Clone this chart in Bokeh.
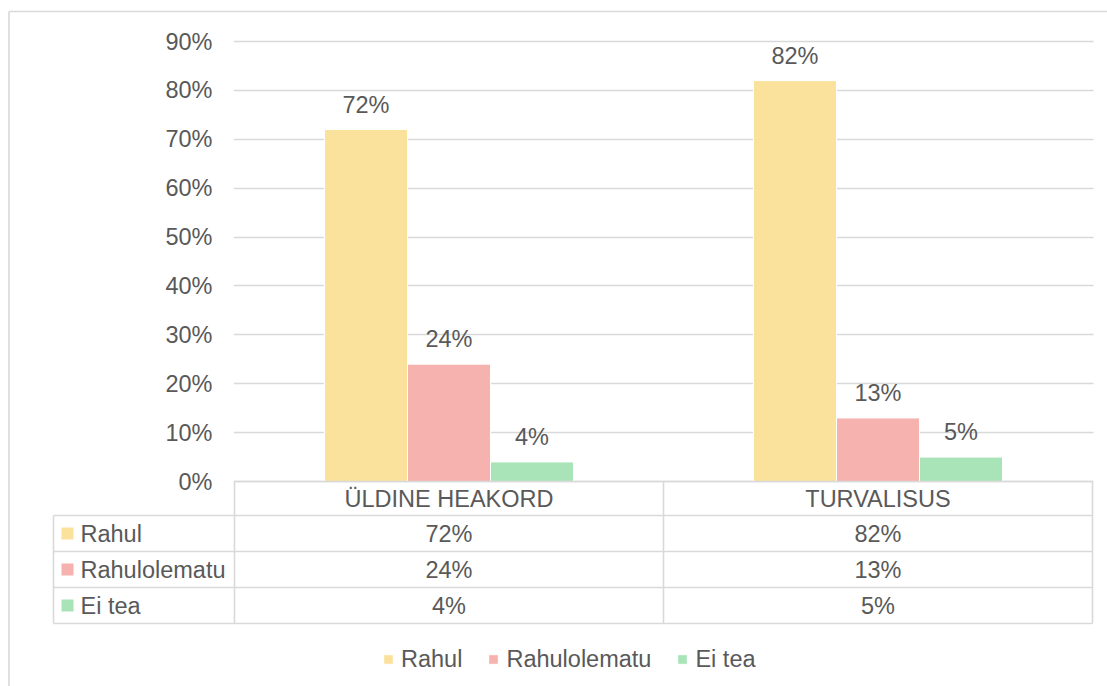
from bokeh.plotting import figure
from bokeh.models import (Range1d, LinearAxis, FixedTicker, Grid, Legend, LegendItem,
                          ColumnDataSource, PrintfTickFormatter)
from bokeh.transform import dodge
from bokeh.core.properties import value
from bokeh.embed import file_html
from bokeh.resources import INLINE

# ---------------- data ----------------
categories = ["ÜLDINE HEAKORD", "TURVALISUS"]
series = ["Rahul", "Rahulolematu", "Ei tea"]
rahul = [72, 82]
rahulolematu = [24, 13]
ei_tea = [4, 5]
y_ticks = [0, 10, 20, 30, 40, 50, 60, 70, 80, 90]

# ---------------- style ----------------
colors = ["#FAE29C", "#F6B2AE", "#A8E4B8"]
FONT = value("Liberation Sans")
FS = "23.5px"
TXT = "#595959"
LINE = "#d9d9d9"

# ---------------- layout helpers (canvas pixels -> data units) ----------------
W, H = 1107, 686
PX0, PCAT = 234.0, 429.0          # x of category axis start, px per category
PY0, PPCT = 481.0, 440.0 / 90.0   # y of 0 %, px per percent


def ux(wx):
    return (wx - PX0) / PCAT


def vy(wy):
    return (PY0 - wy) / PPCT


p = figure(width=W, height=H,
           x_range=Range1d(ux(0), ux(W)),
           y_range=Range1d(vy(H), vy(0)),
           x_axis_type=None, y_axis_type=None,
           output_backend="svg", toolbar_location=None,
           min_border=0, outline_line_color=None)
p.background_fill_color = "white"
p.border_fill_color = "white"

# grid
grid = Grid(dimension=1, ticker=FixedTicker(ticks=y_ticks),
            grid_line_color=LINE, grid_line_width=1.4)
p.add_layout(grid)

# masks to hide grid left of plot area / right of it
p.quad(left=[ux(0), ux(1093)], right=[ux(233.4), ux(W)],
       bottom=[vy(H), vy(H)], top=[vy(0), vy(0)],
       fill_color="white", line_color=None)

# y axis
yaxis = LinearAxis(fixed_location=0, bounds=(0, 90),
                   ticker=FixedTicker(ticks=y_ticks),
                   formatter=PrintfTickFormatter(format="%d%%"),
                   axis_line_color=None, major_tick_line_color=None,
                   minor_tick_line_color=None, major_tick_out=0, major_tick_in=0,
                   major_label_standoff=22,
                   major_label_text_font="Liberation Sans",
                   major_label_text_font_size=FS,
                   major_label_text_color=TXT)
p.add_layout(yaxis, "left")

# x axis (category labels in table header row)
xaxis = LinearAxis(fixed_location=0,
                   ticker=FixedTicker(ticks=[i + 0.5 for i in range(len(categories))]),
                   major_label_overrides={i + 0.5: c for i, c in enumerate(categories)},
                   axis_line_color=None, major_tick_line_color=None,
                   minor_tick_line_color=None, major_tick_out=0, major_tick_in=0,
                   major_label_standoff=4,
                   major_label_text_font="Liberation Sans",
                   major_label_text_font_size=FS,
                   major_label_text_color=TXT)
p.add_layout(xaxis, "below")

# bars
src = ColumnDataSource(dict(
    x=[i + 0.5 for i in range(len(categories))],
    rahul=rahul, rahulolematu=rahulolematu, ei_tea=ei_tea,
    rahul_l=[f"{v}%" for v in rahul],
    rahulolematu_l=[f"{v}%" for v in rahulolematu],
    ei_tea_l=[f"{v}%" for v in ei_tea],
))
fields = ["rahul", "rahulolematu", "ei_tea"]
off = 83.0 / PCAT
renderers = []
for k, (f, c) in enumerate(zip(fields, colors)):
    d = (k - 1) * off
    r = p.vbar(x=dodge("x", d, range=p.x_range), top=f, bottom=0, width=off,
               source=src, fill_color=c, line_color="white", line_width=1)
    renderers.append(r)
    p.text(x=dodge("x", d, range=p.x_range), y=f, text=f + "_l", source=src,
           text_align="center", text_baseline="middle", y_offset=-25,
           text_font=FONT, text_font_size=FS, text_color=TXT)

# table lines
hy = [515, 551, 587, 623]
x0s, y0s, x1s, y1s = [], [], [], []
x0s.append(ux(234)); x1s.append(ux(1092)); y0s.append(vy(481)); y1s.append(vy(481))
for yy in hy:
    x0s.append(ux(53)); x1s.append(ux(1092)); y0s.append(vy(yy)); y1s.append(vy(yy))
x0s.append(ux(53)); x1s.append(ux(53)); y0s.append(vy(515)); y1s.append(vy(623))
for xx in [234, 663, 1092]:
    x0s.append(ux(xx)); x1s.append(ux(xx)); y0s.append(vy(481)); y1s.append(vy(623))
p.segment(x0=x0s, y0=y0s, x1=x1s, y1=y1s, line_color=LINE, line_width=1.6)

# outer border (top and left)
p.segment(x0=[ux(8.5), ux(8.5)], y0=[vy(11), vy(11)],
          x1=[ux(W), ux(8.5)], y1=[vy(11), vy(H)],
          line_color=LINE, line_width=1.6)

# table rows
row_c = [(hy[j] + hy[j + 1]) / 2 for j in range(3)]
p.rect(x=[ux(67)] * 3, y=[vy(rc) for rc in row_c], width=12, height=12,
       width_units="screen", height_units="screen", fill_color=colors, line_color=None)
p.text(x=[ux(80)] * 3, y=[vy(rc) for rc in row_c], text=series,
       text_align="left", text_baseline="middle",
       text_font=FONT, text_font_size=FS, text_color=TXT)
vals = [rahul, rahulolematu, ei_tea]
tx, ty, tt = [], [], []
for j, vs in enumerate(vals):
    for i, v in enumerate(vs):
        tx.append(i + 0.5); ty.append(vy(row_c[j])); tt.append(f"{v}%")
p.text(x=tx, y=ty, text=tt, text_align="center", text_baseline="middle",
       text_font=FONT, text_font_size=FS, text_color=TXT)

# legend
legend = Legend(items=[LegendItem(label=s, renderers=[r]) for s, r in zip(series, renderers)],
                orientation="horizontal", location=(382, 13.5),
                padding=0, margin=0, spacing=25,
                glyph_width=12, glyph_height=12, label_standoff=7, label_height=12,
                label_text_font="Liberation Sans", label_text_font_size=FS,
                label_text_color=TXT, border_line_color=None, background_fill_alpha=0)
p.add_layout(legend)

open("out.html", "w").write(file_html(p, INLINE))
